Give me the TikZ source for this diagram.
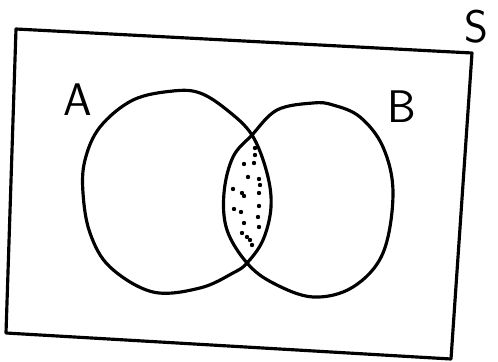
\documentclass[tikz,border=0pt]{standalone}
\usepackage{amssymb}

\tikzset{
	setline/.style={line width=1.8pt, line join=round, line cap=round},
	setlabel/.style={font=\sffamily\fontsize{26}{28}\selectfont, inner sep=0pt},
	speck/.style={fill=black, draw=none}
}

\begin{document}
\begin{tikzpicture}[x=0.02cm, y=-0.02cm]
	\useasboundingbox (0, 0) rectangle (498, 362);
	% universal set
	\draw[setline] (16, 29) -- (472, 53) -- (451, 359) -- (6, 333) -- cycle;
	% set A
	\draw[setline] plot[smooth cycle, tension=0.6] coordinates {(173, 91) (133, 100) (100, 127) (85, 160) (83, 193) (90, 233) (110, 267) (153, 292) (200, 288) (233, 273) (247, 263) (263, 240) (271, 207) (267, 173) (252, 135) (227, 110) (200, 93)};
	% set B
	\draw[setline] plot[smooth cycle, tension=0.6] coordinates {(313, 103) (277, 110) (252, 135) (233, 157) (224, 193) (227, 230) (247, 263) (273, 283) (313, 297) (353, 287) (383, 253) (393, 193) (383, 147) (360, 117) (333, 105)};
	% dotted intersection
	\foreach \px/\py in {255/148, 244/164, 255/155, 254/163, 248/177, 259/179, 260/185, 233/189, 242/193, 244/196, 259/193, 259/206, 234/209, 241/212, 258/217, 244/223, 259/227, 242/233, 247/237, 250/240, 252/245}
		\fill[speck] (\px, \py) circle (2.2);
	\node[setlabel] (labA) at (78, 100) {A};
	\node[setlabel] (labB) at (402, 107) {B};
	\node[setlabel] (labS) at (476, 27) {S};
\end{tikzpicture}
\end{document}
